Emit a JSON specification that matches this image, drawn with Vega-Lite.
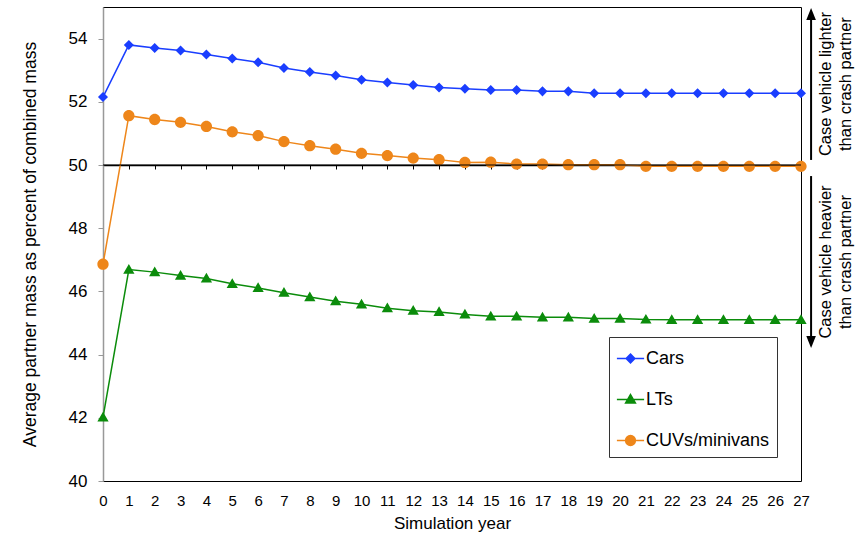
{
  "$schema": "https://vega.github.io/schema/vega-lite/v6.json",
  "width": 698,
  "height": 474,
  "autosize": {"type": "none"},
  "padding": {"left": 103, "top": 7, "right": 63, "bottom": 55},
  "background": "white",
  "config": {
    "view": {"stroke": "#000000", "strokeWidth": 1},
    "font": "Liberation Sans",
    "axis": {"labelFont": "Liberation Sans", "titleFont": "Liberation Sans", "labelColor": "#000", "titleColor": "#000", "titleFontWeight": "normal", "grid": false},
    "legend": {"labelFont": "Liberation Sans"}
  },
  "datasets": {
    "main": [
      {"year": 0, "type": "Cars", "value": 52.15}, {"year": 1, "type": "Cars", "value": 53.8}, {"year": 2, "type": "Cars", "value": 53.7}, {"year": 3, "type": "Cars", "value": 53.62}, {"year": 4, "type": "Cars", "value": 53.5}, {"year": 5, "type": "Cars", "value": 53.37}, {"year": 6, "type": "Cars", "value": 53.25}, {"year": 7, "type": "Cars", "value": 53.07}, {"year": 8, "type": "Cars", "value": 52.94}, {"year": 9, "type": "Cars", "value": 52.83}, {"year": 10, "type": "Cars", "value": 52.7}, {"year": 11, "type": "Cars", "value": 52.61}, {"year": 12, "type": "Cars", "value": 52.53}, {"year": 13, "type": "Cars", "value": 52.45}, {"year": 14, "type": "Cars", "value": 52.41}, {"year": 15, "type": "Cars", "value": 52.37}, {"year": 16, "type": "Cars", "value": 52.37}, {"year": 17, "type": "Cars", "value": 52.33}, {"year": 18, "type": "Cars", "value": 52.33}, {"year": 19, "type": "Cars", "value": 52.27}, {"year": 20, "type": "Cars", "value": 52.27}, {"year": 21, "type": "Cars", "value": 52.27}, {"year": 22, "type": "Cars", "value": 52.27}, {"year": 23, "type": "Cars", "value": 52.27}, {"year": 24, "type": "Cars", "value": 52.27}, {"year": 25, "type": "Cars", "value": 52.27}, {"year": 26, "type": "Cars", "value": 52.27}, {"year": 27, "type": "Cars", "value": 52.27},
      {"year": 0, "type": "LTs", "value": 42.01}, {"year": 1, "type": "LTs", "value": 46.69}, {"year": 2, "type": "LTs", "value": 46.61}, {"year": 3, "type": "LTs", "value": 46.5}, {"year": 4, "type": "LTs", "value": 46.41}, {"year": 5, "type": "LTs", "value": 46.24}, {"year": 6, "type": "LTs", "value": 46.11}, {"year": 7, "type": "LTs", "value": 45.96}, {"year": 8, "type": "LTs", "value": 45.82}, {"year": 9, "type": "LTs", "value": 45.69}, {"year": 10, "type": "LTs", "value": 45.59}, {"year": 11, "type": "LTs", "value": 45.47}, {"year": 12, "type": "LTs", "value": 45.39}, {"year": 13, "type": "LTs", "value": 45.35}, {"year": 14, "type": "LTs", "value": 45.27}, {"year": 15, "type": "LTs", "value": 45.21}, {"year": 16, "type": "LTs", "value": 45.21}, {"year": 17, "type": "LTs", "value": 45.18}, {"year": 18, "type": "LTs", "value": 45.18}, {"year": 19, "type": "LTs", "value": 45.14}, {"year": 20, "type": "LTs", "value": 45.14}, {"year": 21, "type": "LTs", "value": 45.11}, {"year": 22, "type": "LTs", "value": 45.1}, {"year": 23, "type": "LTs", "value": 45.1}, {"year": 24, "type": "LTs", "value": 45.1}, {"year": 25, "type": "LTs", "value": 45.1}, {"year": 26, "type": "LTs", "value": 45.1}, {"year": 27, "type": "LTs", "value": 45.1},
      {"year": 0, "type": "CUVs/minivans", "value": 46.86}, {"year": 1, "type": "CUVs/minivans", "value": 51.56}, {"year": 2, "type": "CUVs/minivans", "value": 51.44}, {"year": 3, "type": "CUVs/minivans", "value": 51.35}, {"year": 4, "type": "CUVs/minivans", "value": 51.22}, {"year": 5, "type": "CUVs/minivans", "value": 51.05}, {"year": 6, "type": "CUVs/minivans", "value": 50.93}, {"year": 7, "type": "CUVs/minivans", "value": 50.74}, {"year": 8, "type": "CUVs/minivans", "value": 50.61}, {"year": 9, "type": "CUVs/minivans", "value": 50.5}, {"year": 10, "type": "CUVs/minivans", "value": 50.37}, {"year": 11, "type": "CUVs/minivans", "value": 50.3}, {"year": 12, "type": "CUVs/minivans", "value": 50.22}, {"year": 13, "type": "CUVs/minivans", "value": 50.17}, {"year": 14, "type": "CUVs/minivans", "value": 50.08}, {"year": 15, "type": "CUVs/minivans", "value": 50.09}, {"year": 16, "type": "CUVs/minivans", "value": 50.03}, {"year": 17, "type": "CUVs/minivans", "value": 50.03}, {"year": 18, "type": "CUVs/minivans", "value": 50.01}, {"year": 19, "type": "CUVs/minivans", "value": 50.01}, {"year": 20, "type": "CUVs/minivans", "value": 50.01}, {"year": 21, "type": "CUVs/minivans", "value": 49.96}, {"year": 22, "type": "CUVs/minivans", "value": 49.96}, {"year": 23, "type": "CUVs/minivans", "value": 49.96}, {"year": 24, "type": "CUVs/minivans", "value": 49.96}, {"year": 25, "type": "CUVs/minivans", "value": 49.96}, {"year": 26, "type": "CUVs/minivans", "value": 49.96}, {"year": 27, "type": "CUVs/minivans", "value": 49.96}
    ],
    "one": [{"k": 1}]
  },
  "resolve": {"axis": {"x": "independent"}},
  "layer": [
    {
      "data": {"name": "main"},
      "mark": {"type": "line", "strokeWidth": 1.5},
      "encoding": {
        "x": {"field": "year", "type": "quantitative",
          "scale": {"domain": [0, 27], "nice": false, "zero": false},
          "axis": {"orient": "bottom", "values": [0,1,2,3,4,5,6,7,8,9,10,11,12,13,14,15,16,17,18,19,20,21,22,23,24,25,26,27], "domain": false, "ticks": false, "labelFontSize": 15, "labelPadding": 12, "labelFlush": false, "labelOverlap": false, "title": "Simulation year", "titleFontSize": 17, "titlePadding": 7}},
        "y": {"field": "value", "type": "quantitative",
          "scale": {"domain": [40, 55], "nice": false, "zero": false},
          "axis": {"values": [40,42,44,46,48,50,52,54], "domainColor": "#999999", "domainWidth": 1.5, "tickColor": "#999999", "tickSize": 5, "labelFontSize": 17, "labelPadding": 11, "title": "Average partner mass as percent of combined mass", "titleFontSize": 17.5, "titlePadding": 29}},
        "color": {"field": "type", "type": "nominal",
          "scale": {"domain": ["Cars", "LTs", "CUVs/minivans"], "range": ["#1A3EFF", "#0B8C0B", "#EE861A"]}}
      }
    },
    {
      "data": {"name": "main"},
      "mark": {"type": "point", "filled": true, "opacity": 1, "size": 980},
      "encoding": {
        "x": {"field": "year", "type": "quantitative", "axis": null},
        "y": {"field": "value", "type": "quantitative"},
        "color": {"field": "type", "type": "nominal",
          "legend": {"title": null, "orient": "none", "legendX": 506, "legendY": 330, "labelFontSize": 18, "labelColor": "#000", "symbolSize": 740, "symbolStrokeWidth": 1.5, "rowPadding": 17, "padding": 7, "labelOffset": 1, "strokeColor": "#333333", "fillColor": "white"}},
        "stroke": {"field": "type", "type": "nominal",
          "scale": {"domain": ["Cars", "LTs", "CUVs/minivans"], "range": ["#2A4BFF", "#3AA53A", "#F0952E"]}},
        "strokeWidth": {"value": 0},
        "shape": {"field": "type", "type": "nominal", "scale": {"domain": ["Cars", "LTs", "CUVs/minivans"], "range": ["M-1,0H1M0,-0.32L0.32,0L0,0.32L-0.32,0Z", "M-1,0H1M0,-0.36L0.36,0.26L-0.36,0.26Z", "M-1,0H1M0.36,0A0.36,0.36 0 1,1 -0.36,0A0.36,0.36 0 1,1 0.36,0Z"]}}
      }
    },
    {
      "data": {"name": "one"},
      "mark": {"type": "rule", "color": "#000000", "strokeWidth": 1},
      "encoding": {
        "x": {"datum": 0, "type": "quantitative", "axis": {"orient": "bottom", "offset": -316, "values": [0,1,2,3,4,5,6,7,8,9,10,11,12,13,14,15,16,17,18,19,20,21,22,23,24,25,26,27], "labels": false, "title": null, "domain": true, "domainColor": "#000000", "domainWidth": 1.5, "ticks": true, "tickColor": "#000000", "tickSize": 4}},
        "x2": {"datum": 27},
        "y": {"datum": 50, "type": "quantitative"}
      }
    },
    {
      "data": {"name": "one"},
      "mark": {"type": "rule", "color": "#000000", "strokeWidth": 2},
      "encoding": {
        "x": {"datum": 27.39, "type": "quantitative", "axis": null},
        "y": {"datum": 50.16, "type": "quantitative"},
        "y2": {"datum": 54.6}
      }
    },
    {
      "data": {"name": "one"},
      "mark": {"type": "rule", "color": "#000000", "strokeWidth": 2},
      "encoding": {
        "x": {"datum": 27.39, "type": "quantitative", "axis": null},
        "y": {"datum": 49.65, "type": "quantitative"},
        "y2": {"datum": 44.55}
      }
    },
    {
      "data": {"name": "one"},
      "mark": {"type": "point", "filled": true, "opacity": 1, "color": "#000000", "shape": "M0,-1L-0.8,1L0.8,1Z", "size": 144},
      "encoding": {
        "x": {"datum": 27.39, "type": "quantitative", "axis": null},
        "y": {"datum": 54.78, "type": "quantitative"}
      }
    },
    {
      "data": {"name": "one"},
      "mark": {"type": "point", "filled": true, "opacity": 1, "color": "#000000", "shape": "M0,1L-0.8,-1L0.8,-1Z", "size": 144},
      "encoding": {
        "x": {"datum": 27.39, "type": "quantitative", "axis": null},
        "y": {"datum": 44.4, "type": "quantitative"}
      }
    },
    {
      "data": {"name": "one"},
      "mark": {"type": "text", "text": ["Case vehicle lighter", "than crash partner"], "angle": 270, "font": "Liberation Sans", "fontSize": 16.5, "lineHeight": 20, "align": "center", "baseline": "middle", "color": "#000000"},
      "encoding": {
        "x": {"datum": 27.98, "type": "quantitative", "axis": null},
        "y": {"datum": 52.56, "type": "quantitative"}
      }
    },
    {
      "data": {"name": "one"},
      "mark": {"type": "text", "text": ["Case vehicle heavier", "than crash partner"], "angle": 270, "font": "Liberation Sans", "fontSize": 16.5, "lineHeight": 20, "align": "center", "baseline": "middle", "color": "#000000"},
      "encoding": {
        "x": {"datum": 27.98, "type": "quantitative", "axis": null},
        "y": {"datum": 46.93, "type": "quantitative"}
      }
    }
  ]
}
